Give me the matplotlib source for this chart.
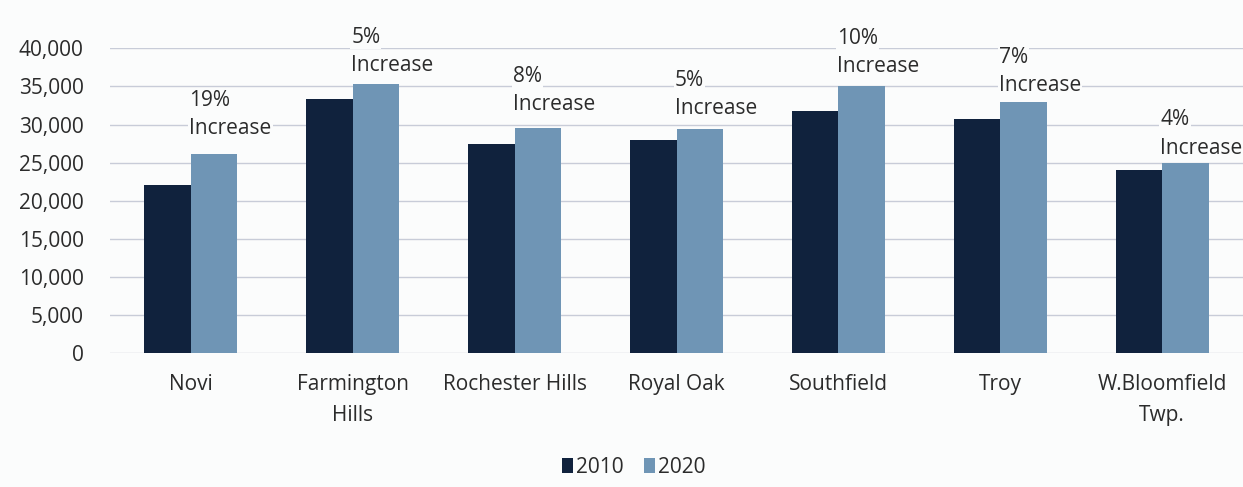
import numpy as np
import matplotlib
matplotlib.use("Agg")
import matplotlib.pyplot as plt
from matplotlib.ticker import FuncFormatter

# Data
cities = ["Novi", "Farmington\nHills", "Rochester Hills", "Royal Oak",
          "Southfield", "Troy", "W.Bloomfield\nTwp."]
pop_2010 = [22100, 33400, 27400, 28000, 31800, 30700, 24000]
pop_2020 = [26200, 35300, 29600, 29400, 35000, 33000, 24900]
pct_increase = ["19%", "5%", "8%", "5%", "10%", "7%", "4%"]

# Styling
color_2010 = "#10223d"
color_2020 = "#6f95b5"
grid_color = "#c8ccd8"
text_color = "#2b2b2b"
bg = "#fbfcfc"
plt.rcParams["font.family"] = ["Open Sans", "DejaVu Sans"]

fig = plt.figure(figsize=(12.43, 4.87), dpi=100, facecolor=bg)
ax = fig.add_axes([0.0885, 0.2745, 0.9115, 0.6263])
ax.set_facecolor(bg)

x = np.arange(len(cities))
width = 0.287
ax.bar(x - width / 2, pop_2010, width, color=color_2010, label="2010", zorder=2)
ax.bar(x + width / 2, pop_2020, width, color=color_2020, label="2020", zorder=2)

ax.set_xlim(-0.5, len(cities) - 0.5)
ax.set_ylim(0, 40000)
ax.set_yticks(np.arange(0, 40001, 5000))
ax.yaxis.set_major_formatter(FuncFormatter(lambda v, p: f"{int(v):,}"))
ax.grid(axis="y", color=grid_color, linewidth=1, zorder=0)
ax.set_axisbelow(True)
for s in ax.spines.values():
    s.set_visible(False)
ax.tick_params(axis="y", length=0, pad=19, labelsize=15, labelcolor=text_color)
ax.tick_params(axis="x", length=0, pad=15, labelsize=15, labelcolor=text_color)
ax.set_xticks(x)
ax.set_xticklabels(cities, linespacing=1.6)

# percentage annotations, offsets (in units of people) above the 2020 bar
label_offsets = [5150, 4300, 4900, 4550, 4450, 3950, 3850]
half_gap = 1850
box = dict(boxstyle="square,pad=0.05", fc=bg, ec="none")
for i, (pct, top, off) in enumerate(zip(pct_increase, pop_2020, label_offsets)):
    ax.text(i - 0.01, top + off + half_gap, pct, ha="left", va="center",
            fontsize=15, color=text_color, zorder=3, clip_on=False, bbox=box)
    ax.text(i - 0.01, top + off - half_gap, "Increase", ha="left", va="center",
            fontsize=15, color=text_color, zorder=3, clip_on=False, bbox=box)

leg = fig.legend(loc="center", bbox_to_anchor=(0.51, 0.04), ncol=2,
                 frameon=False, fontsize=15, handlelength=0.5,
                 handleheight=0.75, handletextpad=0.15, columnspacing=1.0,
                 labelcolor=text_color)

fig.savefig("out.png", dpi=100, facecolor=fig.get_facecolor())
